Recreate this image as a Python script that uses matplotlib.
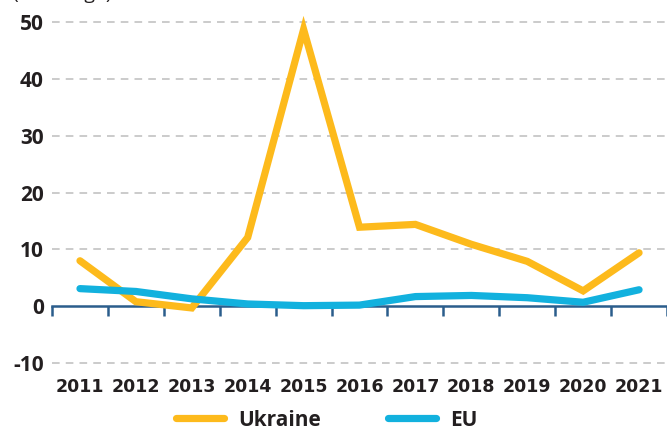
import numpy as np
import matplotlib.pyplot as plt

plt.rcParams["axes.unicode_minus"] = False

# yearly % change
years = [2011, 2012, 2013, 2014, 2015, 2016, 2017, 2018, 2019, 2020, 2021]
ukraine = [8.0, 0.8, -0.3, 12.1, 48.7, 13.9, 14.4, 10.9, 7.9, 2.7, 9.4]
eu = [3.1, 2.6, 1.3, 0.4, 0.1, 0.2, 1.7, 1.9, 1.5, 0.7, 2.9]
y_ticks = [-10, 0, 10, 20, 30, 40, 50]

yellow = "#FDBA1C"
blue = "#12B1DE"
navy = "#2B5D8C"

fig = plt.figure(figsize=(6.67, 4.3), dpi=100)
ax = fig.add_axes([0.078, 0.149, 0.922, 0.813])

ax.plot(years, ukraine, color=yellow, lw=5.2, solid_capstyle="round",
        solid_joinstyle="miter", label="Ukraine")
ax.plot(years, eu, color=blue, lw=5.2, solid_capstyle="round",
        solid_joinstyle="round", label="EU")

ax.set_xlim(2010.5, 2021.35)
ax.set_ylim(-10.5, 51)

# grid lines, except at zero where the axis line sits
for v in y_ticks:
    if v != 0:
        ax.axhline(v, color="#BDBDBD", lw=1.1, dashes=(5, 4), zorder=0)

for s in ["top", "right", "left"]:
    ax.spines[s].set_visible(False)
ax.spines["bottom"].set_position(("data", 0))
ax.spines["bottom"].set_color(navy)
ax.spines["bottom"].set_linewidth(1.8)
ax.spines["bottom"].set_zorder(1)

ax.set_yticks(y_ticks)
ax.tick_params(axis="y", length=0, pad=6)
for lab in ax.get_yticklabels():
    lab.set_fontfamily("Open Sans")
    lab.set_fontweight("bold")
    lab.set_fontsize(15)
    lab.set_color("#231F20")

ax.set_xticks(years)
ax.set_xticks(np.arange(2010.5, 2022, 1), minor=True)
ax.tick_params(axis="x", which="major", length=0, pad=52)
ax.tick_params(axis="x", which="minor", length=7, width=1.8, color=navy,
               direction="out")
for lab in ax.get_xticklabels():
    lab.set_fontfamily("Liberation Sans Narrow")
    lab.set_fontweight("bold")
    lab.set_fontsize(12.5)
    lab.set_color("#231F20")

fig.text(0.02, 1.003, "(% change)", fontsize=14, family="Open Sans",
         color="#231F20", va="baseline")

leg = fig.legend(loc="lower center", bbox_to_anchor=(0.49, -0.045), ncol=2,
                 frameon=False, handlelength=2.3, columnspacing=3.2,
                 handletextpad=0.7,
                 prop={"family": "Open Sans", "weight": "bold", "size": 15})
for t in leg.get_texts():
    t.set_color("#231F20")

fig.savefig("out.png", dpi=100)
